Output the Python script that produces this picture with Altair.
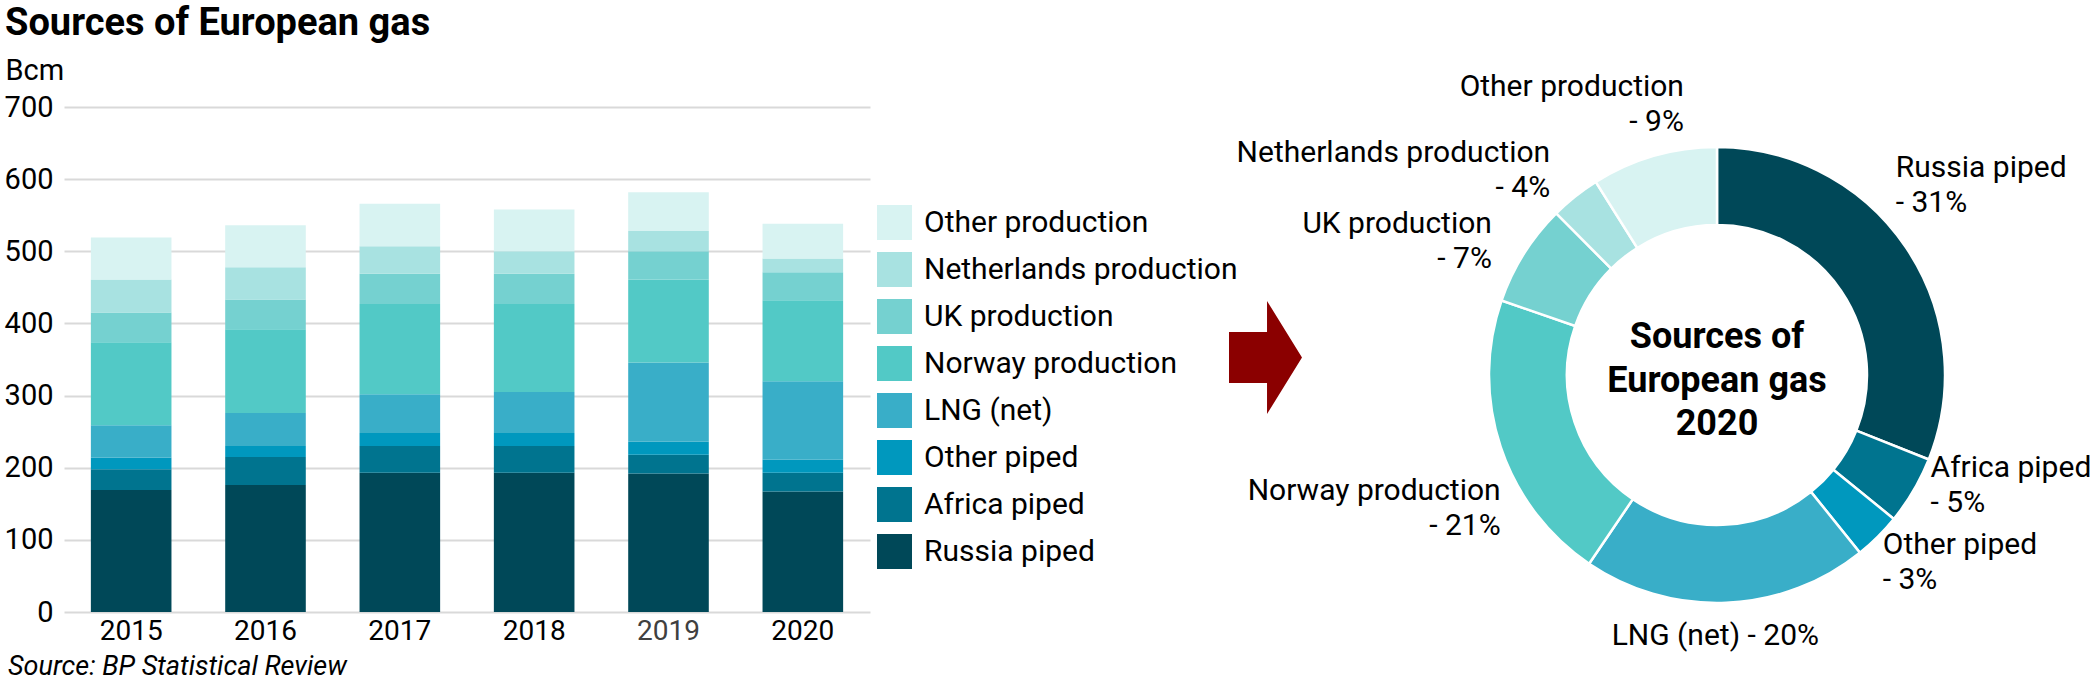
import altair as alt
import pandas as pd

# ---- data (Bcm) ----
years = ["2015", "2016", "2017", "2018", "2019", "2020"]
sources = [
    "Russia piped",
    "Africa piped",
    "Other piped",
    "LNG (net)",
    "Norway production",
    "UK production",
    "Netherlands production",
    "Other production",
]
russia_piped = [169, 176, 193, 193, 192, 167]
africa_piped = [29, 39, 37, 37, 26, 26]
other_piped = [16, 15, 18, 18, 18, 18]
lng_net = [45, 46, 54, 57, 110, 109]
norway_production = [115, 116, 125, 122, 115, 112]
uk_production = [41, 41, 42, 42, 39, 39]
netherlands_production = [46, 45, 38, 31, 28, 19]
other_production = [58, 58, 59, 58, 54, 48]
colors = ["#004858", "#00748f", "#0098be", "#39aec8",
          "#52c9c6", "#75d1d0", "#a8e2e1", "#d8f3f2"]

series = dict(zip(sources, [russia_piped, africa_piped, other_piped, lng_net,
                            norway_production, uk_production,
                            netherlands_production, other_production]))
rows = []
for rank, src in enumerate(sources):
    for yr, v in zip(years, series[src]):
        rows.append({"year": yr, "source": src, "value": v, "rank": rank})
df = pd.DataFrame(rows)

FONT = "Roboto"
W, H = 794, 505
CX, CY = 1653, 268          # donut centre inside the plot group
R_OUT, R_IN = 228, 150

color_scale = alt.Scale(domain=sources[::-1], range=colors[::-1])

# ---- stacked bars ----
bars = alt.Chart(df).mark_bar().encode(
    x=alt.X("year:N", title=None,
            scale=alt.Scale(range=[0, 806], paddingInner=0.4, paddingOuter=0.2),
            axis=alt.Axis(domain=False, ticks=False, tickSize=0, grid=False,
                          labelAngle=0, labelFont=FONT, labelFontSize=28,
                          labelPadding=27, labelBaseline="alphabetic",
                          labelColor={"expr": "datum.value == '2019' ? '#404040' : '#000000'"})),
    y=alt.Y("value:Q", stack="zero", title="Bcm",
            scale=alt.Scale(domain=[0, 700], nice=False),
            axis=alt.Axis(values=list(range(0, 701, 100)), domain=False,
                          ticks=False, tickSize=0, grid=True,
                          gridColor="#d9d9d9", gridWidth=2,
                          labelFont=FONT, labelFontSize=29, labelPadding=11,
                          labelColor="#000000",
                          titleX=-59, titleY=-28, titleAngle=0,
                          titleAlign="left", titleBaseline="alphabetic",
                          titleFont=FONT, titleFontSize=29,
                          titleFontWeight="normal", titleColor="#000000")),
    color=alt.Color("source:N", scale=color_scale, title=None,
                    legend=alt.Legend(orient="none", legendX=813, legendY=98,
                                      padding=0, symbolType="square",
                                      symbolSize=1225, symbolStrokeWidth=0,
                                      symbolOpacity=1, labelFont=FONT,
                                      labelFontSize=30, labelColor="#000000",
                                      labelOffset=12, rowPadding=12,
                                      labelLimit=600)),
    order=alt.Order("rank:Q", sort="ascending"),
)

# ---- 2020 donut ----
pie_base = alt.Chart(df).transform_filter("datum.year == '2020'")

donut = pie_base.mark_arc(outerRadius=R_OUT, innerRadius=R_IN,
                          stroke="white", strokeWidth=2.5).encode(
    theta=alt.Theta("value:Q", stack=True),
    color=alt.Color("source:N", scale=color_scale, legend=None),
    order=alt.Order("rank:Q", sort="ascending"),
    x=alt.value(CX),
    y=alt.value(CY),
)

label_style = {
    "Russia piped": dict(align="left", dx=-10, dy=-70),
    "Africa piped": dict(align="left", dx=17, dy=-14),
    "Other piped": dict(align="left", dx=5, dy=17),
    "LNG (net)": dict(align="center", dx=-11, dy=42),
    "Norway production": dict(align="right", dx=0, dy=53),
    "UK production": dict(align="right", dx=-32, dy=-21),
    "Netherlands production": dict(align="right", dx=-25, dy=-35),
    "Other production": dict(align="right", dx=30, dy=-60),
}


def slice_label(name, align, dx, dy):
    return (
        pie_base
        .transform_joinaggregate(total="sum(value)")
        .transform_window(cum="sum(value)",
                          sort=[alt.SortField("rank", order="ascending")])
        .transform_calculate(
            mid="datum.cum - datum.value / 2",
            pct="round(100 * datum.value / datum.total)",
            label="datum.source + (datum.source == 'LNG (net)' ? ' ' : '\\n') + '- ' + datum.pct + '%'",
        )
        .transform_filter(alt.datum.source == name)
        .mark_text(radius=R_OUT, align=align, baseline="alphabetic",
                   dx=dx, dy=dy, font=FONT, fontSize=30, lineBreak="\n",
                   lineHeight=35, color="#000000")
        .encode(theta=alt.Theta("mid:Q", stack=False), text="label:N",
                x=alt.value(CX), y=alt.value(CY))
    )


labels = [slice_label(n, **s) for n, s in label_style.items()]

one = pd.DataFrame({"t": ["Sources of\nEuropean gas\n2020"]})
centre = alt.Chart(one).mark_text(
    align="center", baseline="alphabetic", font=FONT, fontSize=36,
    fontWeight="bold", lineBreak="\n", lineHeight=43.5, color="#000000",
).encode(text="t:N", x=alt.value(CX), y=alt.value(241))

# ---- arrow between the two panels ----
arrow_path = ("M-0.646,-0.451 L0.027,-0.451 L0.027,-1 L0.646,0 "
              "L0.027,1 L0.027,0.451 L-0.646,0.451 Z")
arrow = alt.Chart(pd.DataFrame({"a": [1]})).mark_point(
    shape=arrow_path, size=12769, filled=True, fill="#8b0000",
    strokeWidth=0, opacity=1,
).encode(x=alt.value(1201.5), y=alt.value(250.5))

# ---- heading and source note ----
heading = alt.Chart(pd.DataFrame({"t": ["Sources of European gas"]})).mark_text(
    align="left", baseline="alphabetic", font=FONT, fontSize=38,
    fontWeight="bold", color="#000000",
).encode(text="t:N", x=alt.value(-59), y=alt.value(-72))

note = alt.Chart(pd.DataFrame({"t": ["Source: BP Statistical Review"]})).mark_text(
    align="left", baseline="alphabetic", font=FONT, fontSize=27,
    fontStyle="italic", color="#000000",
).encode(text="t:N", x=alt.value(-56), y=alt.value(568))

chart = alt.layer(bars, donut, *labels, centre, arrow, heading, note).properties(
    width=W, height=H,
    padding={"left": 64, "top": 107, "right": 1239, "bottom": 73},
    autosize=alt.AutoSizeParams(type="none"),
    background="white",
).configure_view(stroke=None)

chart.save("out.html", embed_options={"renderer": "svg", "actions": False})
